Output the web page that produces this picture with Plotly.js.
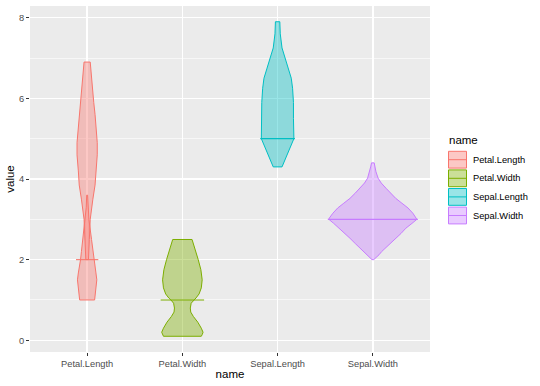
<!DOCTYPE html>
<html>
<head>
<meta charset="utf-8">
<script src="https://cdn.plot.ly/plotly-3.0.1.min.js"></script>
<style>html,body{margin:0;padding:0;background:#fff}#chart{width:540px;height:386px}</style>
</head>
<body>
<div id="chart"></div>
<script>
// ---- data ----
const names = ['Petal.Length', 'Petal.Width', 'Sepal.Length', 'Sepal.Width'];
const colors = ['#F8766D', '#7CAE00', '#00BFC4', '#C77CFF'];
const markValues = [2, 1, 5, 3];   // horizontal mark drawn across each violin

// violin profiles: value levels and relative density (half-width)
const petalLengthUpperY = [6.9, 6.6, 6.25, 5.9, 5.6, 5.3, 4.9, 4.6, 4.2, 3.85, 3.5, 3.0, 2.5, 2.0];
const petalLengthUpperD = [0.07, 0.09, 0.12, 0.15, 0.18, 0.20, 0.23, 0.23, 0.20, 0.18, 0.13, 0.07, 0.05, 0.03];
const petalLengthLowerY = [3.6, 3.3, 3.0, 2.5, 2.2, 2.0, 1.83, 1.67, 1.5, 1.3, 1.1, 1.0];
const petalLengthLowerD = [0.01, 0.02, 0.04, 0.10, 0.13, 0.15, 0.17, 0.20, 0.22, 0.20, 0.18, 0.17];
const petalWidthY = [2.5, 2.4, 2.24, 2.0, 1.75, 1.5, 1.3, 1.15, 1.05, 1.0, 0.92, 0.8, 0.7, 0.59, 0.45, 0.3, 0.2, 0.14, 0.1];
const petalWidthD = [0.22, 0.25, 0.30, 0.36, 0.42, 0.45, 0.43, 0.38, 0.31, 0.26, 0.20, 0.18, 0.19, 0.25, 0.35, 0.43, 0.47, 0.45, 0.43];
const sepalLengthY = [7.9, 7.6, 7.25, 7.0, 6.75, 6.5, 6.25, 5.9, 5.5, 5.2, 5.0, 4.3];
const sepalLengthD = [0.05, 0.06, 0.10, 0.17, 0.24, 0.31, 0.34, 0.36, 0.36, 0.37, 0.37, 0.10];
const sepalWidthY = [4.4, 4.3, 4.18, 4.02, 3.9, 3.77, 3.65, 3.52, 3.4, 3.28, 3.15, 3.03, 3.0, 2.9, 2.78, 2.65, 2.53, 2.4, 2.29, 2.2, 2.12, 2.05, 2.0];
const sepalWidthD = [0.03, 0.05, 0.07, 0.12, 0.19, 0.30, 0.40, 0.52, 0.66, 0.80, 0.91, 0.99, 1.00, 0.89, 0.75, 0.64, 0.52, 0.40, 0.30, 0.20, 0.14, 0.07, 0.02];

const yTicks = [0, 2, 4, 6, 8];

// ---- build ----
const violins = [
  [[petalLengthUpperY, petalLengthUpperD], [petalLengthLowerY, petalLengthLowerD]],
  [[petalWidthY, petalWidthD]],
  [[sepalLengthY, sepalLengthD]],
  [[sepalWidthY, sepalWidthD]]
];
const W = 0.462;          // category units per unit density
const extra = 0.011;      // crossbar overhang

function rgba(hex, a) {
  const n = parseInt(hex.slice(1), 16);
  return 'rgba(' + (n >> 16 & 255) + ',' + (n >> 8 & 255) + ',' + (n & 255) + ',' + a + ')';
}

const traces = [];
violins.forEach((parts, i) => {
  const c = i + 1;
  let maxD = 0;
  parts.forEach(([ys, ds]) => {
    const xs = [], yy = [];
    for (let k = 0; k < ys.length; k++) { xs.push(c + ds[k] * W); yy.push(ys[k]); maxD = Math.max(maxD, ds[k]); }
    for (let k = ys.length - 1; k >= 0; k--) { xs.push(c - ds[k] * W); yy.push(ys[k]); }
    xs.push(xs[0]); yy.push(yy[0]);
    traces.push({
      type: 'scatter', mode: 'lines', x: xs, y: yy, fill: 'toself',
      fillcolor: rgba(colors[i], 0.4), line: {color: colors[i], width: 1},
      hoverinfo: 'skip', showlegend: false
    });
  });
  const hw = maxD * W + extra;
  traces.push({
    type: 'scatter', mode: 'lines', x: [c - hw, c + hw], y: [markValues[i], markValues[i]],
    line: {color: colors[i], width: 1.1}, hoverinfo: 'skip', showlegend: false
  });
});

// ---- manual legend ----
const L = 30, T = 6, PW = 400, PH = 346;
const px = v => (v - L) / PW;
const py = v => (T + PH - v) / PH;
const shapes = [], annotations = [];
annotations.push({xref: 'paper', yref: 'paper', x: px(447), y: py(140), xanchor: 'left', yanchor: 'middle',
  text: 'name', showarrow: false, font: {size: 11.5, color: '#000'}});
names.forEach((nm, i) => {
  const yc = 159.7 + i * 18.6;
  shapes.push({type: 'rect', xref: 'paper', yref: 'paper', x0: px(448.5), x1: px(466.5),
    y0: py(yc - 8.4), y1: py(yc + 8.4), fillcolor: rgba(colors[i], 0.4), line: {color: colors[i], width: 1}});
  shapes.push({type: 'line', xref: 'paper', yref: 'paper', x0: px(448.5), x1: px(466.5),
    y0: py(yc), y1: py(yc), line: {color: colors[i], width: 1}});
  annotations.push({xref: 'paper', yref: 'paper', x: px(471), y: py(yc), xanchor: 'left', yanchor: 'middle',
    text: nm, showarrow: false, font: {size: 9.3, color: '#000'}});
});

const layout = {
  width: 540, height: 386,
  margin: {l: L, r: 540 - L - PW, t: T, b: 386 - T - PH},
  paper_bgcolor: '#FFFFFF', plot_bgcolor: '#EBEBEB',
  font: {family: '"Liberation Sans", Arial, sans-serif', color: '#4D4D4D'},
  showlegend: false,
  xaxis: {
    range: [0.4, 4.6], tickvals: [1, 2, 3, 4], ticktext: names,
    showgrid: true, gridcolor: '#FFFFFF', gridwidth: 1.3, zeroline: false, showline: false,
    ticks: 'outside', ticklen: 3, tickwidth: 1, tickcolor: '#333333',
    tickfont: {size: 9.3, color: '#4D4D4D'},
    title: {text: 'name', font: {size: 11.5, color: '#000'}, standoff: 1}
  },
  yaxis: {
    range: [-0.29, 8.29], tickvals: yTicks,
    showgrid: true, gridcolor: '#FFFFFF', gridwidth: 1.3, zeroline: false, showline: false,
    ticks: 'outside', ticklen: 3, tickwidth: 1, tickcolor: '#333333',
    tickfont: {size: 9.3, color: '#4D4D4D'},
    minor: {tickvals: [1, 3, 5, 7], showgrid: true, gridcolor: '#FFFFFF', gridwidth: 0.6, ticks: ''},
    title: {text: 'value', font: {size: 11.5, color: '#000'}, standoff: 1}
  },
  shapes: shapes, annotations: annotations
};

Plotly.newPlot('chart', traces, layout, {staticPlot: true, displayModeBar: false});
</script>
</body>
</html>
